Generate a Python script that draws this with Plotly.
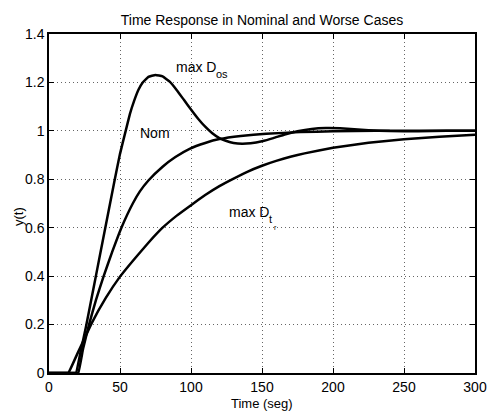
import plotly.graph_objects as go

# max D_os (overshoot) response
t_os = [0, 17, 19, 22, 26, 30, 34, 38, 42, 46, 50, 54, 57, 60, 63, 66, 70, 75, 80, 85, 90, 95, 100, 105, 110, 115, 120, 125, 130, 136, 142, 150, 158, 166, 175, 185, 195, 205, 215, 225, 240, 260, 280, 300]
y_os = [0, 0, 0, 0.08, 0.19, 0.31, 0.43, 0.55, 0.67, 0.79, 0.905, 1.0, 1.07, 1.125, 1.17, 1.2, 1.223, 1.231, 1.225, 1.203, 1.168, 1.128, 1.088, 1.05, 1.017, 0.99, 0.97, 0.958, 0.95, 0.947, 0.949, 0.957, 0.97, 0.985, 0.998, 1.008, 1.012, 1.011, 1.007, 1.003, 0.999, 0.998, 1.0, 1.0]

# Nominal response
t_nom = [0, 19, 20.6, 24, 28.2, 33, 38.5, 44.5, 51, 59, 64, 70, 80, 89, 99, 110, 120, 135, 153, 177, 200, 230, 300]
y_nom = [0, 0, 0, 0.1, 0.2, 0.3, 0.4, 0.5, 0.6, 0.7, 0.75, 0.795, 0.852, 0.892, 0.926, 0.95, 0.966, 0.979, 0.988, 0.995, 0.998, 1.0, 1.0]

# max D_tr response
t_tr = [0, 12, 13.6, 20, 25, 30, 40, 50, 60, 70, 80, 90, 100, 110, 120, 130, 140, 150, 160, 170, 180, 200, 225, 250, 275, 300]
y_tr = [0, 0, 0, 0.08, 0.142, 0.205, 0.31, 0.398, 0.47, 0.538, 0.6, 0.65, 0.693, 0.735, 0.772, 0.803, 0.832, 0.856, 0.876, 0.893, 0.907, 0.93, 0.951, 0.965, 0.976, 0.984]

x_ticks = [0, 50, 100, 150, 200, 250, 300]
y_ticks = [0, 0.2, 0.4, 0.6, 0.8, 1.0, 1.2, 1.4]
y_ticklabels = ["0", "0.2", "0.4", "0.6", "0.8", "1", "1.2", "1.4"]

FONT = "Liberation Sans, Arial, sans-serif"

fig = go.Figure()
for tx, ty in [(t_os, y_os), (t_nom, y_nom), (t_tr, y_tr)]:
    fig.add_trace(go.Scatter(x=tx, y=ty, mode="lines",
                             line=dict(color="black", width=2.5, shape="spline", smoothing=0.3),
                             showlegend=False, hoverinfo="skip"))

ann = [
    dict(x=88, y=1.265, text="max D", size=14, xanchor="left"),
    dict(x=116.5, y=1.236, text="os", size=11, xanchor="left"),
    dict(x=74.6, y=0.993, text="Nom", size=14, xanchor="center"),
    dict(x=125, y=0.663, text="max D", size=14, xanchor="left"),
    dict(x=153.5, y=0.634, text="t", size=11, xanchor="left"),
    dict(x=157, y=0.60, text="r", size=7, xanchor="left"),
]
for a in ann:
    fig.add_annotation(x=a["x"], y=a["y"], text=a["text"], showarrow=False,
                       xanchor=a["xanchor"], yanchor="middle",
                       font=dict(family=FONT, size=a["size"], color="black"))

# axis titles as positioned annotations
fig.add_annotation(xref="paper", yref="paper", x=-0.0728, y=0.463, text="y(t)", textangle=-90,
                   showarrow=False, xanchor="center", yanchor="middle",
                   font=dict(family=FONT, size=13, color="black"))
fig.add_annotation(xref="paper", yref="paper", x=0.5, y=-0.0885, text="Time (seg)",
                   showarrow=False, xanchor="center", yanchor="middle",
                   font=dict(family=FONT, size=13, color="black"))

fig.update_layout(
    width=488, height=411,
    margin=dict(l=49, r=13, t=34, b=38),
    paper_bgcolor="white", plot_bgcolor="white",
    font=dict(family=FONT, size=14, color="black"),
    title=dict(text="Time Response in Nominal and Worse Cases", x=0.5, xref="paper", xanchor="center",
               y=1 - 20 / 411, yanchor="middle", font=dict(size=14, color="black")),
)
common = dict(ticks="inside", ticklen=5, tickcolor="black", tickwidth=1,
              showline=True, linecolor="black", linewidth=1.5, mirror="ticks",
              showgrid=True, gridcolor="#666", griddash="1px,3px", gridwidth=1,
              zeroline=False, automargin=False, tickfont=dict(size=14))
fig.update_xaxes(range=[0, 300], tickvals=x_ticks, **common)
fig.update_yaxes(range=[0, 1.4], tickvals=y_ticks, ticktext=y_ticklabels, **common)

fig.write_html("out.html", config={"displayModeBar": False},
               post_script="document.body.style.margin='0';document.body.style.overflow='hidden';")
